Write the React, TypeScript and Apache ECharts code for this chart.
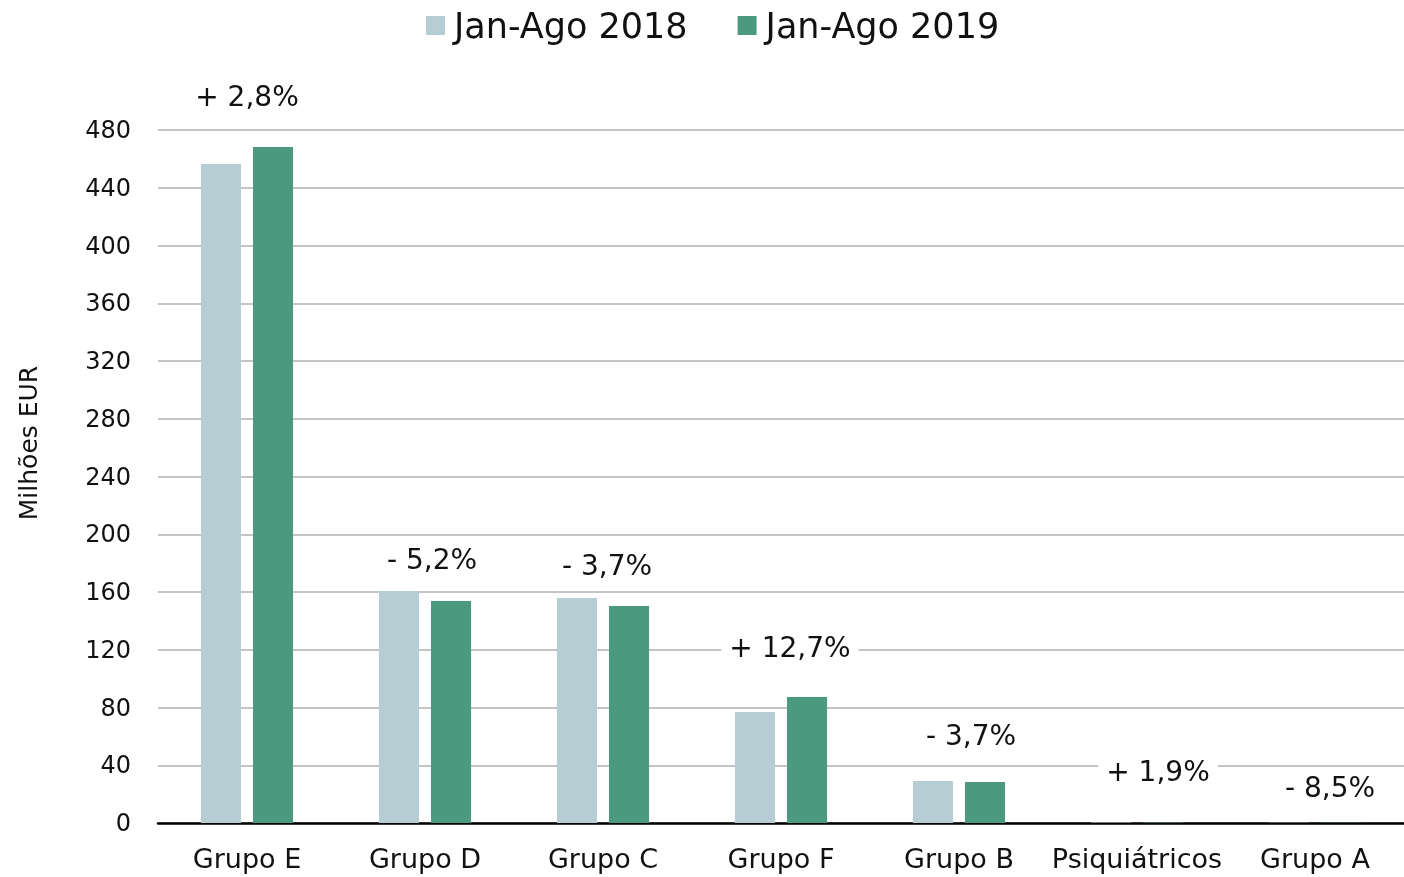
import React, { useEffect, useRef } from "react";
import * as echarts from "echarts";

const categories = ["Grupo E", "Grupo D", "Grupo C", "Grupo F", "Grupo B", "Psiquiátricos", "Grupo A"];
const values2018 = [456.4, 160.7, 155.8, 76.9, 29.1, 0.4, 0.2];
const values2019 = [468.2, 153.7, 150.3, 87.3, 28.4, 0.41, 0.18];
const changeLabels = ["+ 2,8%", "- 5,2%", "- 3,7%", "+ 12,7%", "- 3,7%", "+ 1,9%", "- 8,5%"];
const changeLabelLevels = [503.5, 182.8, 178.7, 121.9, 60.9, 36, 24.9];
const yTicks = { min: 0, max: 480, interval: 40 };
const seriesNames = ["Jan-Ago 2018", "Jan-Ago 2019"];
const yAxisTitle = "Milhões EUR";

const FONT = "'DejaVu Sans', sans-serif";
const TXT = "#111";

export default function App() {
  const ref = useRef<HTMLDivElement>(null);
  useEffect(() => {
    if (!ref.current) return;
    const chart = echarts.init(ref.current, undefined, { renderer: "svg" });
    const labelOffsets = [0, 7, 4, 9, 12, 21, 15];
    chart.setOption({
      animation: false,
      textStyle: { fontFamily: FONT, color: TXT },
      legend: {
        data: seriesNames,
        top: 3,
        left: 421,
        itemWidth: 19,
        itemHeight: 19,
        itemGap: 50,
        icon: "rect",
        textStyle: { fontSize: 35, color: TXT, fontFamily: FONT, padding: [0, 0, 0, 4] },
      },
      graphic: [
        {
          type: "text",
          x: 28,
          y: 443,
          rotation: Math.PI / 2,
          style: {
            text: yAxisTitle,
            fontSize: 25,
            fontFamily: FONT,
            fill: TXT,
            align: "center",
            verticalAlign: "middle",
          },
        },
      ],
      grid: { left: 158, right: 0, top: 130, bottom: 54, containLabel: false },
      xAxis: {
        type: "category",
        data: categories,
        axisTick: { show: false },
        axisLine: { lineStyle: { color: "#000", width: 2.5 } },
        axisLabel: { fontSize: 27, color: TXT, margin: 22, fontFamily: FONT, interval: 0 },
      },
      yAxis: {
        type: "value",
        min: yTicks.min,
        max: yTicks.max,
        interval: yTicks.interval,
        axisLine: { show: false },
        axisTick: { show: false },
        axisLabel: { fontSize: 24, color: TXT, margin: 27, fontFamily: FONT },
        splitLine: { lineStyle: { color: "#c4c4c4", width: 2 } },
      },
      series: [
        {
          name: seriesNames[0],
          type: "bar",
          data: values2018,
          itemStyle: { color: "#b6cdd3" },
          barWidth: "22.5%",
          barGap: "30%",
        },
        {
          name: seriesNames[1],
          type: "bar",
          data: values2019,
          itemStyle: { color: "#4b9a80" },
          barWidth: "22.5%",
          barGap: "30%",
        },
        {
          type: "scatter",
          symbolSize: 0,
          clip: false,
          silent: true,
          z: 5,
          itemStyle: { opacity: 1 },
          data: changeLabelLevels.map((v, i) => ({
            value: [i, v],
            label: {
              show: true,
              position: "inside",
              offset: [labelOffsets[i], 0],
              formatter: changeLabels[i],
              fontSize: 28,
              color: TXT,
              fontFamily: FONT,
              backgroundColor: "#fff",
              padding: [2, 8],
            },
          })),
        },
      ],
    });
    return () => chart.dispose();
  }, []);
  return <div ref={ref} style={{ position: "fixed", left: 0, top: 0, width: 1404, height: 877 }} />;
}
